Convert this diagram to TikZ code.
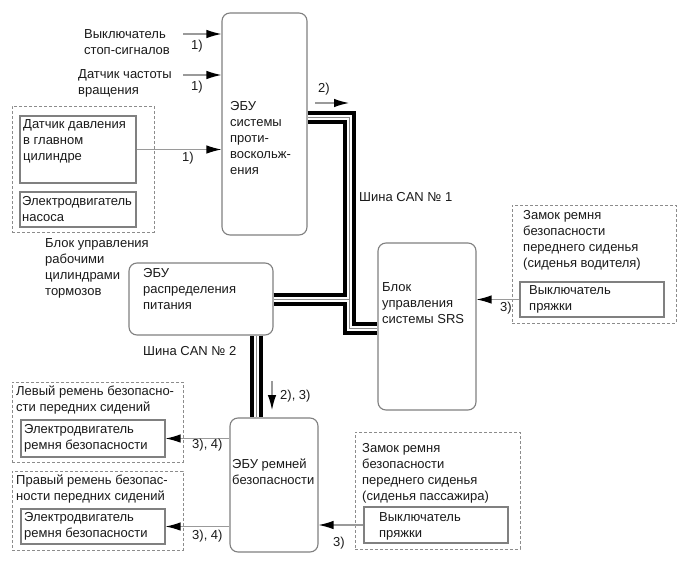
\documentclass[tikz,border=0pt]{standalone}
\usepackage{fontspec}
\setmainfont{Liberation Sans}
\usetikzlibrary{arrows.meta,fit}
\newcommand{\fsz}{\fontsize{13}{16}\selectfont}
\definecolor{edgegray}{HTML}{808080}
\definecolor{dashgray}{HTML}{8C8C8C}
\definecolor{arrgray}{HTML}{9A9A9A}
\definecolor{busgray}{HTML}{8A8A8A}
\definecolor{textblack}{HTML}{1A1A1A}
\begin{document}
\begin{tikzpicture}[x=1pt,y=-1pt,
  rbox/.style={draw=edgegray, line width=1.1pt, rounded corners=8pt, inner sep=0pt},
  sbox/.style={draw=edgegray, line width=1.1pt, inner sep=0pt},
  dbox/.style={draw=dashgray, line width=1pt, dash pattern=on 3pt off 2pt, inner sep=0pt},
  txt/.style={anchor=north west, inner sep=0pt, align=left, font=\fsz, text=textblack},
  arr/.style={draw=arrgray, line width=1.2pt, -{Latex[length=15pt,width=8.5pt,color=black]}}
]
\path[use as bounding box, fill=white] (0,0) rectangle (691,562);

% dashed groups
\node[dbox, fit={(12,106) (154,232)}] (g1) {};
\node[dbox, fit={(512,205) (676,323)}] (g2) {};
\node[dbox, fit={(12,382) (183,462)}] (g3) {};
\node[dbox, fit={(12,471) (183,550)}] (g4) {};
\node[dbox, fit={(355,432) (520,549)}] (g5) {};

% solid boxes
\node[sbox, fit={(20,116) (136,183)}] (dp) {};
\node[sbox, fit={(20,192) (136,227)}] (pm) {};
\node[sbox, fit={(520,282) (664,317)}] (b1) {};
\node[sbox, fit={(21,420) (165,457)}] (m1) {};
\node[sbox, fit={(21,509) (165,544)}] (m2) {};
\node[sbox, fit={(364,507) (508,543)}] (b2) {};

% rounded ECUs
\node[rbox, fit={(222,13) (307,235)}] (abs) {};
\node[rbox, fit={(378,243) (476,410)}] (srs) {};
\node[rbox, fit={(129,263) (273,335)}] (pwr) {};
\node[rbox, fit={(230,418) (318,552)}] (belt) {};

% CAN buses
\coordinate (c1a) at (349,117);
\coordinate (c1b) at (349,328.5);
\coordinate (c2) at (256,0);
\foreach \w/\c in {13/black,5/white,1/busgray}{
  \draw[line width=\w pt, draw=\c] (c1a -| abs.east) -- (c1a) -- (c1b) -- (c1b -| srs.west);
  \draw[line width=\w pt, draw=\c] (pwr.east) -- (pwr.east -| c1a);
  \draw[line width=\w pt, draw=\c] (pwr.south -| c2) -- (belt.north -| c2);
}

% arrows
\coordinate (s1) at (183,34);
\coordinate (s2) at (183,75);
\draw[arr] (s1) -- (s1 -| abs.west);
\draw[arr] (s2) -- (s2 -| abs.west);
\draw[arr] (dp.east) -- (dp.east -| abs.west);
\coordinate (o1) at (315,103);
\coordinate (o2) at (349,103);
\draw[arr] (o1) -- (o2);
\draw[arr] (b1.west) -- (b1.west -| srs.east);
\coordinate (d1) at (272,381);
\coordinate (d2) at (272,410);
\draw[arr] (d1) -- (d2);
\draw[arr] (m1.east -| belt.west) -- (m1.east);
\draw[arr] (m2.east -| belt.west) -- (m2.east);
\draw[arr] (b2.west) -- (b2.west -| belt.east);

% texts
\node[txt] (t1) at (84,27) {\strut Выключатель\\стоп-сигналов};
\node[txt] (t2) at (78,67) {\strut Датчик частоты\\вращения};
\node[txt] (t3) at (23,117) {\strut Датчик давления\\в главном\\цилиндре};
\node[txt] (t4) at (22,194) {\strut Электродвигатель\\насоса};
\node[txt] (t5) at (45,236) {\strut Блок управления\\рабочими\\цилиндрами\\тормозов};
\node[txt] (t6) at (230,99) {\strut ЭБУ\\системы\\проти-\\воскольж-\\ения};
\node[txt] (t7) at (318,81) {\strut 2)};
\node[txt] (t8) at (359,190) {\strut Шина CAN № 1};
\node[txt] (t9) at (382,280) {\strut Блок\\управления\\системы SRS};
\node[txt] (t10) at (523,208) {\strut Замок ремня\\безопасности\\переднего сиденья\\(сиденья водителя)};
\node[txt] (t11) at (529,283) {\strut Выключатель\\пряжки};
\node[txt] (t12) at (500,300) {\strut 3)};
\node[txt] (t13) at (143,266) {\strut ЭБУ\\распределения\\питания};
\node[txt] (t14) at (143,344) {\strut Шина CAN № 2};
\node[txt] (t15) at (280,388) {\strut 2), 3)};
\node[txt] (t16) at (16,384) {\strut Левый ремень безопасно-\\сти передних сидений};
\node[txt] (t17) at (24,422) {\strut Электродвигатель\\ремня безопасности};
\node[txt] (t18) at (192,437) {\strut 3), 4)};
\node[txt] (t19) at (16,473) {\strut Правый ремень безопас-\\ности передних сидений};
\node[txt] (t20) at (24,510) {\strut Электродвигатель\\ремня безопасности};
\node[txt] (t21) at (192,528) {\strut 3), 4)};
\node[txt] (t22) at (232,457) {\strut ЭБУ ремней\\безопасности};
\node[txt] (t23) at (362,441) {\strut Замок ремня\\безопасности\\переднего сиденья\\(сиденья пассажира)};
\node[txt] (t24) at (379,510) {\strut Выключатель\\пряжки};
\node[txt] (t25) at (333,535) {\strut 3)};
\node[txt] (t26) at (191,38) {\strut 1)};
\node[txt] (t27) at (191,79) {\strut 1)};
\node[txt] (t28) at (182,150) {\strut 1)};
\end{tikzpicture}
\end{document}
